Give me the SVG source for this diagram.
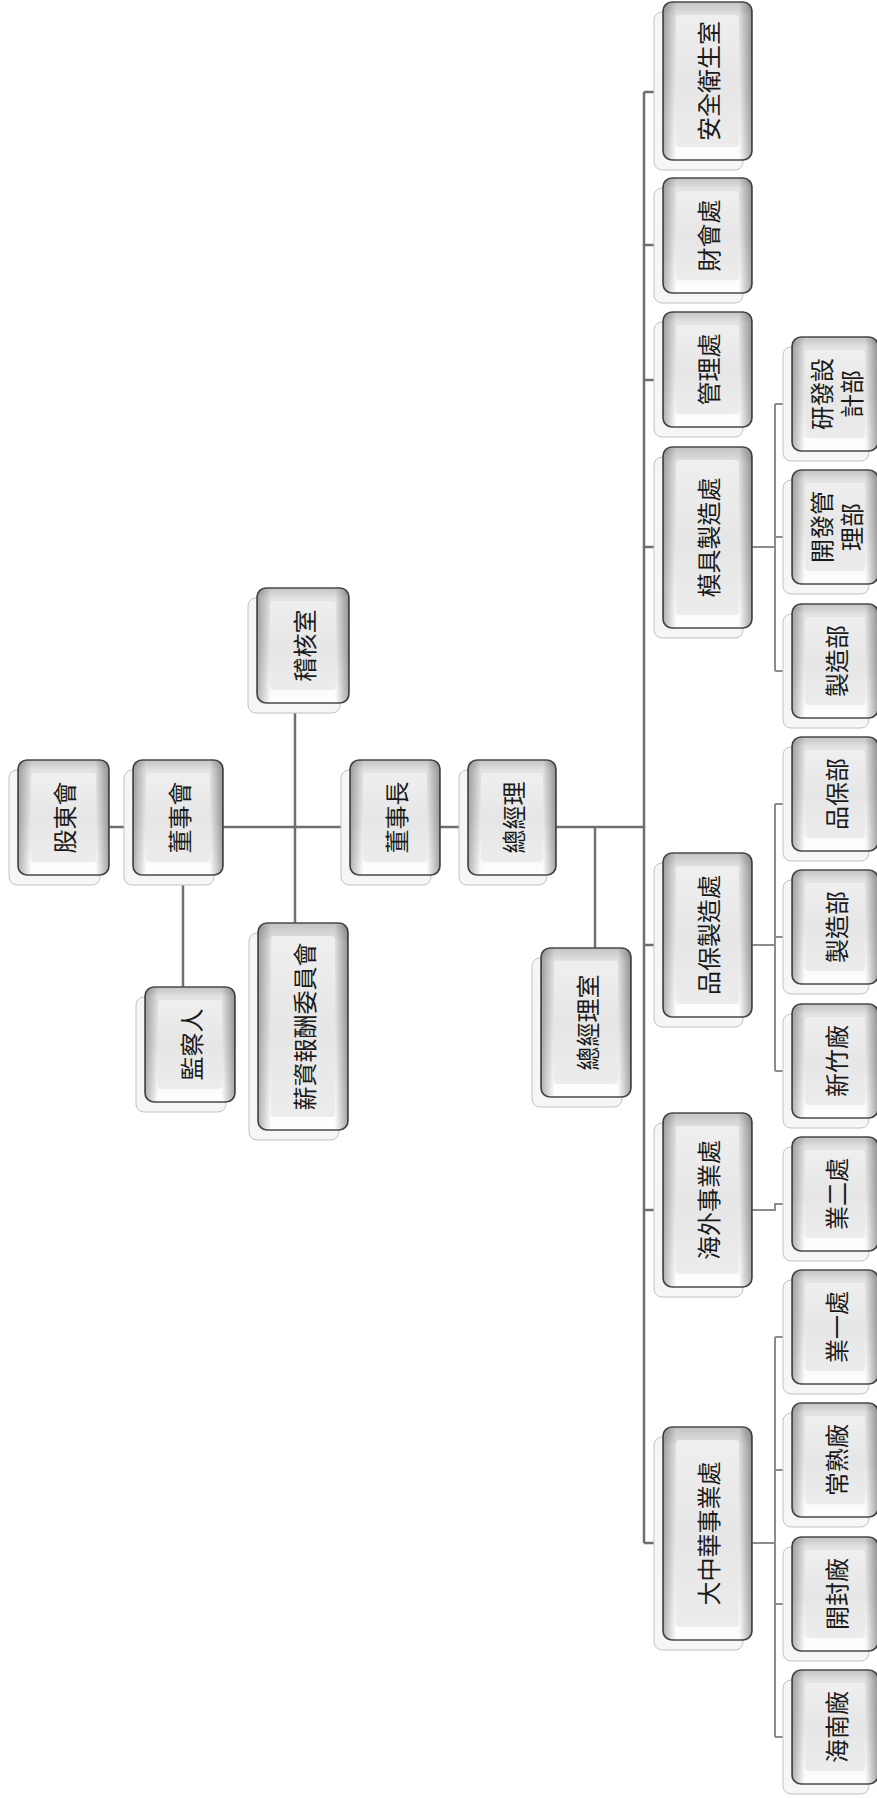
<svg xmlns="http://www.w3.org/2000/svg" width="877" height="1798" viewBox="0 0 877 1798">
<defs>
<linearGradient id="gv" x1="0" y1="0" x2="0" y2="1">
<stop offset="0" stop-color="#c4c4c4"/><stop offset="0.09" stop-color="#e2e2e2"/><stop offset="0.5" stop-color="#e8e8e8"/><stop offset="0.9" stop-color="#fbfbfb"/><stop offset="1" stop-color="#ffffff"/>
</linearGradient>
<linearGradient id="gh" x1="0" y1="0" x2="1" y2="0">
<stop offset="0" stop-color="#000" stop-opacity="0.3"/><stop offset="0.15" stop-color="#000" stop-opacity="0"/><stop offset="0.85" stop-color="#000" stop-opacity="0"/><stop offset="1" stop-color="#000" stop-opacity="0.35"/>
</linearGradient>
<linearGradient id="gi" x1="0" y1="0" x2="0" y2="1">
<stop offset="0" stop-color="#efefef"/><stop offset="0.5" stop-color="#e6e6e6"/><stop offset="1" stop-color="#ececec"/>
</linearGradient>
<style>
.sh{fill:#f6f6f6;stroke:#c2c2c2;stroke-width:1}
.mn{fill:url(#gv);stroke:#4a4a4a;stroke-width:1.6}
.ov{fill:url(#gh);stroke:none}
.in{fill:url(#gi);stroke:none}
.t{font-family:"Noto Sans CJK TC","Noto Sans CJK SC",sans-serif;font-size:24px;fill:#1a1a1a;text-anchor:middle;dominant-baseline:central}
.c1{fill:none;stroke:#6f6f6f;stroke-width:2.5}
.c2{fill:none;stroke:#8c8c8c;stroke-width:2}
</style>
</defs>
<rect width="877" height="1798" fill="#ffffff"/>
<g id="connectors">
<path class="c1" d="M109,827H133M223,827H350M440,827H468M556,827H644M295,703V923M183,875V987M595,827V948"/>
<path class="c1" d="M644,92V1543M644,92H663M644,245H663M644,380H663M644,547H663M644,945H663M644,1210H663M644,1543H663"/>
<path class="c2" d="M751,547H775M775,404V671M775,404H792M775,537H792M775,671H792"/>
<path class="c2" d="M751,945H775M775,804V1071M775,804H792M775,937H792M775,1071H792"/>
<path class="c2" d="M751,1210H775V1204H792"/>
<path class="c2" d="M751,1543H775M775,1337V1737M775,1337H792M775,1470H792M775,1604H792M775,1737H792"/>
</g>
<g id="n-gudonghui"><rect class="sh" x="9" y="770" width="91" height="115" rx="8"/><rect class="mn" x="18" y="760" width="91" height="115" rx="9"/><rect class="ov" x="18" y="760" width="91" height="115" rx="9"/><rect class="in" x="31" y="773" width="65" height="89" rx="4"/><text class="t" x="63.5" y="817.5" transform="rotate(-90 63.5 817.5)">股東會</text></g>
<g id="n-dongshihui"><rect class="sh" x="124" y="770" width="90" height="115" rx="8"/><rect class="mn" x="133" y="760" width="90" height="115" rx="9"/><rect class="ov" x="133" y="760" width="90" height="115" rx="9"/><rect class="in" x="146" y="773" width="64" height="89" rx="4"/><text class="t" x="178" y="817.5" transform="rotate(-90 178 817.5)">董事會</text></g>
<g id="n-jihe"><rect class="sh" x="248" y="598" width="92" height="115" rx="8"/><rect class="mn" x="257" y="588" width="92" height="115" rx="9"/><rect class="ov" x="257" y="588" width="92" height="115" rx="9"/><rect class="in" x="270" y="601" width="66" height="89" rx="4"/><text class="t" x="303" y="645.5" transform="rotate(-90 303 645.5)">稽核室</text></g>
<g id="n-xinzi"><rect class="sh" x="249" y="933" width="90" height="207" rx="8"/><rect class="mn" x="258" y="923" width="90" height="207" rx="9"/><rect class="ov" x="258" y="923" width="90" height="207" rx="9"/><rect class="in" x="271" y="936" width="64" height="181" rx="4"/><text class="t" x="303" y="1026.5" transform="rotate(-90 303 1026.5)">薪資報酬委員會</text></g>
<g id="n-jianchaoren"><rect class="sh" x="136" y="997" width="90" height="115" rx="8"/><rect class="mn" x="145" y="987" width="90" height="115" rx="9"/><rect class="ov" x="145" y="987" width="90" height="115" rx="9"/><rect class="in" x="158" y="1000" width="64" height="89" rx="4"/><text class="t" x="190" y="1044.5" transform="rotate(-90 190 1044.5)">監察人</text></g>
<g id="n-dongshizhang"><rect class="sh" x="341" y="770" width="90" height="115" rx="8"/><rect class="mn" x="350" y="760" width="90" height="115" rx="9"/><rect class="ov" x="350" y="760" width="90" height="115" rx="9"/><rect class="in" x="363" y="773" width="64" height="89" rx="4"/><text class="t" x="395" y="817.5" transform="rotate(-90 395 817.5)">董事長</text></g>
<g id="n-zongjingli"><rect class="sh" x="459" y="770" width="88" height="115" rx="8"/><rect class="mn" x="468" y="760" width="88" height="115" rx="9"/><rect class="ov" x="468" y="760" width="88" height="115" rx="9"/><rect class="in" x="481" y="773" width="62" height="89" rx="4"/><text class="t" x="512" y="817.5" transform="rotate(-90 512 817.5)">總經理</text></g>
<g id="n-zjlshi"><rect class="sh" x="532" y="958" width="90" height="149" rx="8"/><rect class="mn" x="541" y="948" width="90" height="149" rx="9"/><rect class="ov" x="541" y="948" width="90" height="149" rx="9"/><rect class="in" x="554" y="961" width="64" height="123" rx="4"/><text class="t" x="586" y="1022.5" transform="rotate(-90 586 1022.5)">總經理室</text></g>
<g id="n-anquan"><rect class="sh" x="654" y="12" width="89" height="158" rx="8"/><rect class="mn" x="663" y="2" width="89" height="158" rx="9"/><rect class="ov" x="663" y="2" width="89" height="158" rx="9"/><rect class="in" x="676" y="15" width="63" height="132" rx="4"/><text class="t" x="707.5" y="81" transform="rotate(-90 707.5 81)">安全衛生室</text></g>
<g id="n-caihui"><rect class="sh" x="654" y="188" width="89" height="115" rx="8"/><rect class="mn" x="663" y="178" width="89" height="115" rx="9"/><rect class="ov" x="663" y="178" width="89" height="115" rx="9"/><rect class="in" x="676" y="191" width="63" height="89" rx="4"/><text class="t" x="707.5" y="235.5" transform="rotate(-90 707.5 235.5)">財會處</text></g>
<g id="n-guanli"><rect class="sh" x="654" y="322" width="89" height="115" rx="8"/><rect class="mn" x="663" y="312" width="89" height="115" rx="9"/><rect class="ov" x="663" y="312" width="89" height="115" rx="9"/><rect class="in" x="676" y="325" width="63" height="89" rx="4"/><text class="t" x="707.5" y="369.5" transform="rotate(-90 707.5 369.5)">管理處</text></g>
<g id="n-muju"><rect class="sh" x="654" y="457" width="89" height="181" rx="8"/><rect class="mn" x="663" y="447" width="89" height="181" rx="9"/><rect class="ov" x="663" y="447" width="89" height="181" rx="9"/><rect class="in" x="676" y="460" width="63" height="155" rx="4"/><text class="t" x="707.5" y="537.5" transform="rotate(-90 707.5 537.5)">模具製造處</text></g>
<g id="n-pinbao"><rect class="sh" x="654" y="863" width="89" height="164" rx="8"/><rect class="mn" x="663" y="853" width="89" height="164" rx="9"/><rect class="ov" x="663" y="853" width="89" height="164" rx="9"/><rect class="in" x="676" y="866" width="63" height="138" rx="4"/><text class="t" x="707.5" y="935" transform="rotate(-90 707.5 935)">品保製造處</text></g>
<g id="n-haiwai"><rect class="sh" x="654" y="1123" width="89" height="174" rx="8"/><rect class="mn" x="663" y="1113" width="89" height="174" rx="9"/><rect class="ov" x="663" y="1113" width="89" height="174" rx="9"/><rect class="in" x="676" y="1126" width="63" height="148" rx="4"/><text class="t" x="707.5" y="1200" transform="rotate(-90 707.5 1200)">海外事業處</text></g>
<g id="n-dazhonghua"><rect class="sh" x="654" y="1437" width="89" height="213" rx="8"/><rect class="mn" x="663" y="1427" width="89" height="213" rx="9"/><rect class="ov" x="663" y="1427" width="89" height="213" rx="9"/><rect class="in" x="676" y="1440" width="63" height="187" rx="4"/><text class="t" x="707.5" y="1533.5" transform="rotate(-90 707.5 1533.5)">大中華事業處</text></g>
<g id="n-yanfa"><rect class="sh" x="783" y="347" width="86" height="114" rx="8"/><rect class="mn" x="792" y="337" width="86" height="114" rx="9"/><rect class="ov" x="792" y="337" width="86" height="114" rx="9"/><rect class="in" x="805" y="350" width="60" height="88" rx="4"/><text class="t" transform="rotate(-90 835 394)"><tspan x="835" y="379">研發設</tspan><tspan x="835" y="409">計部</tspan></text></g>
<g id="n-kaifa"><rect class="sh" x="783" y="480" width="86" height="114" rx="8"/><rect class="mn" x="792" y="470" width="86" height="114" rx="9"/><rect class="ov" x="792" y="470" width="86" height="114" rx="9"/><rect class="in" x="805" y="483" width="60" height="88" rx="4"/><text class="t" transform="rotate(-90 835 527)"><tspan x="835" y="512">開發管</tspan><tspan x="835" y="542">理部</tspan></text></g>
<g id="n-zhizao1"><rect class="sh" x="783" y="614" width="86" height="114" rx="8"/><rect class="mn" x="792" y="604" width="86" height="114" rx="9"/><rect class="ov" x="792" y="604" width="86" height="114" rx="9"/><rect class="in" x="805" y="617" width="60" height="88" rx="4"/><text class="t" x="835" y="661" transform="rotate(-90 835 661)">製造部</text></g>
<g id="n-pinbaobu"><rect class="sh" x="783" y="747" width="86" height="114" rx="8"/><rect class="mn" x="792" y="737" width="86" height="114" rx="9"/><rect class="ov" x="792" y="737" width="86" height="114" rx="9"/><rect class="in" x="805" y="750" width="60" height="88" rx="4"/><text class="t" x="835" y="794" transform="rotate(-90 835 794)">品保部</text></g>
<g id="n-zhizao2"><rect class="sh" x="783" y="880" width="86" height="114" rx="8"/><rect class="mn" x="792" y="870" width="86" height="114" rx="9"/><rect class="ov" x="792" y="870" width="86" height="114" rx="9"/><rect class="in" x="805" y="883" width="60" height="88" rx="4"/><text class="t" x="835" y="927" transform="rotate(-90 835 927)">製造部</text></g>
<g id="n-xinzhu"><rect class="sh" x="783" y="1014" width="86" height="114" rx="8"/><rect class="mn" x="792" y="1004" width="86" height="114" rx="9"/><rect class="ov" x="792" y="1004" width="86" height="114" rx="9"/><rect class="in" x="805" y="1017" width="60" height="88" rx="4"/><text class="t" x="835" y="1061" transform="rotate(-90 835 1061)">新竹廠</text></g>
<g id="n-ye2"><rect class="sh" x="783" y="1147" width="86" height="114" rx="8"/><rect class="mn" x="792" y="1137" width="86" height="114" rx="9"/><rect class="ov" x="792" y="1137" width="86" height="114" rx="9"/><rect class="in" x="805" y="1150" width="60" height="88" rx="4"/><text class="t" x="835" y="1194" transform="rotate(-90 835 1194)">業二處</text></g>
<g id="n-ye1"><rect class="sh" x="783" y="1280" width="86" height="114" rx="8"/><rect class="mn" x="792" y="1270" width="86" height="114" rx="9"/><rect class="ov" x="792" y="1270" width="86" height="114" rx="9"/><rect class="in" x="805" y="1283" width="60" height="88" rx="4"/><text class="t" x="835" y="1327" transform="rotate(-90 835 1327)">業一處</text></g>
<g id="n-changshu"><rect class="sh" x="783" y="1413" width="86" height="114" rx="8"/><rect class="mn" x="792" y="1403" width="86" height="114" rx="9"/><rect class="ov" x="792" y="1403" width="86" height="114" rx="9"/><rect class="in" x="805" y="1416" width="60" height="88" rx="4"/><text class="t" x="835" y="1460" transform="rotate(-90 835 1460)">常熟廠</text></g>
<g id="n-kaifeng"><rect class="sh" x="783" y="1547" width="86" height="114" rx="8"/><rect class="mn" x="792" y="1537" width="86" height="114" rx="9"/><rect class="ov" x="792" y="1537" width="86" height="114" rx="9"/><rect class="in" x="805" y="1550" width="60" height="88" rx="4"/><text class="t" x="835" y="1594" transform="rotate(-90 835 1594)">開封廠</text></g>
<g id="n-hainan"><rect class="sh" x="783" y="1680" width="86" height="114" rx="8"/><rect class="mn" x="792" y="1670" width="86" height="114" rx="9"/><rect class="ov" x="792" y="1670" width="86" height="114" rx="9"/><rect class="in" x="805" y="1683" width="60" height="88" rx="4"/><text class="t" x="835" y="1727" transform="rotate(-90 835 1727)">海南廠</text></g>
</svg>
